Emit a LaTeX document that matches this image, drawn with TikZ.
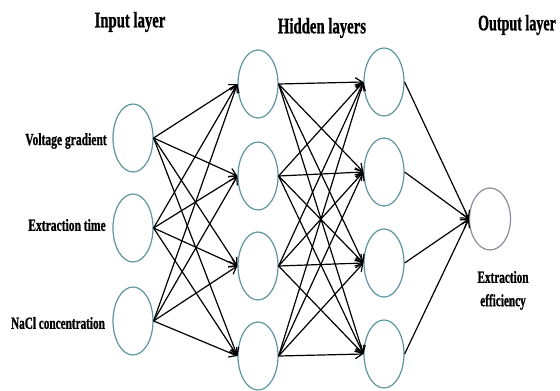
\documentclass[tikz,border=0pt]{standalone}
\usepackage{fontspec}
\setmainfont{Liberation Serif}[BoldFeatures={FakeBold=1.2}]
\usetikzlibrary{shapes.geometric,arrows.meta}
\newcommand\condtxt[2]{\scalebox{#1}[1]{#2}}
\definecolor{nodeteal}{HTML}{5E969C}
\definecolor{nodegrey}{HTML}{948A99}
\begin{document}
\begin{tikzpicture}[x=1pt,y=-1pt,
  neuron/.style={ellipse,draw=nodeteal,line width=1.2pt,minimum width=40pt,minimum height=68pt,inner sep=0pt},
  outneuron/.style={ellipse,draw=nodegrey,line width=1.2pt,minimum width=41pt,minimum height=62pt,inner sep=0pt},
  head/.style={font=\bfseries\fontsize{22}{24}\selectfont,inner sep=0pt},
  lab/.style={font=\bfseries\fontsize{17}{19}\selectfont,inner sep=0pt,align=center},
  conn/.style={draw=black,line width=1.2pt,-{Straight Barb[length=7pt,width=9pt]}}]
\useasboundingbox (0,0) rectangle (560,391);
\fill[white] (0,0) rectangle (560,391);
% input layer
\node[neuron] (i1) at (133,138) {};
\node[neuron] (i2) at (133,228) {};
\node[neuron] (i3) at (133,321) {};
% hidden layer 1
\node[neuron] (a1) at (258,84) {};
\node[neuron] (a2) at (258,176) {};
\node[neuron] (a3) at (258,266) {};
\node[neuron] (a4) at (258,356) {};
% hidden layer 2
\node[neuron] (b1) at (384,82) {};
\node[neuron] (b2) at (384,172) {};
\node[neuron] (b3) at (384,263) {};
\node[neuron] (b4) at (384,354) {};
% output
\node[outneuron] (o) at (490,219) {};
% headings
\node[head] (hin) at (130,22) {\condtxt{0.67}{Input layer}};
\node[head] (hhid) at (322,28) {\condtxt{0.67}{Hidden layers}};
\node[head] (hout) at (517,25) {\condtxt{0.64}{Output layer}};
% labels
\node[lab] (l1) at (66,141) {\condtxt{0.68}{Voltage gradient}};
\node[lab] (l2) at (67,225) {\condtxt{0.68}{Extraction time}};
\node[lab] (l3) at (58,323) {\condtxt{0.66}{NaCl concentration}};
\node[lab] (l4) at (503,277) {\condtxt{0.66}{Extraction}};
\node[lab] (l5) at (503,302) {\condtxt{0.66}{efficiency}};
% connections
\foreach \s in {i1,i2,i3}
  \foreach \t in {a1,a2,a3,a4}
    \draw[conn] (\s.east) -- (\t.west);
\foreach \s in {a1,a2,a3,a4}
  \foreach \t in {b1,b2,b3,b4}
    \draw[conn] (\s.east) -- (\t.west);
\foreach \s in {b1,b2,b3,b4}
  \draw[conn] (\s.east) -- (o.west);
\end{tikzpicture}
\end{document}
